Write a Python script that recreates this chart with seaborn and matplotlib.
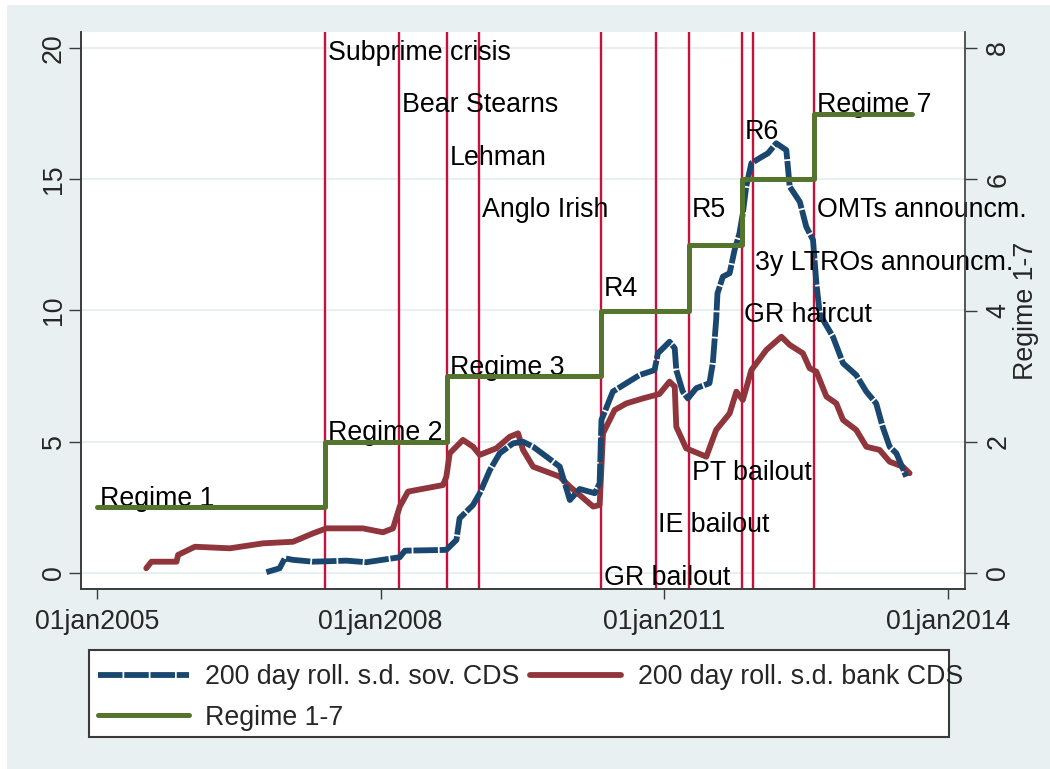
import pandas as pd
import seaborn as sns
import matplotlib.pyplot as plt
from matplotlib.patches import Rectangle
from matplotlib.lines import Line2D

# 200 day rolling s.d. of sovereign CDS
sov_dates = ["2006-10-17", "2006-12-07", "2006-12-27", "2007-01-28", "2007-04-15",
             "2007-08-22", "2007-11-07", "2008-03-15", "2008-04-04", "2008-09-11",
             "2008-10-20", "2008-11-01", "2008-12-23", "2009-01-18", "2009-02-26",
             "2009-04-05", "2009-05-27", "2009-07-04", "2009-08-12", "2009-10-03",
             "2009-11-23", "2010-01-01", "2010-02-08", "2010-04-07", "2010-04-26",
             "2010-05-03", "2010-06-16", "2010-08-07", "2010-09-27", "2010-11-24",
             "2010-12-07", "2011-01-21", "2011-02-10", "2011-02-16", "2011-03-13",
             "2011-04-02", "2011-05-04", "2011-06-24", "2011-07-07", "2011-07-20",
             "2011-07-25", "2011-08-15", "2011-09-10", "2011-09-29", "2011-10-18",
             "2011-10-31", "2011-11-13", "2011-12-03", "2012-01-03", "2012-02-05",
             "2012-03-08", "2012-04-16", "2012-04-29", "2012-06-07", "2012-07-02",
             "2012-07-28", "2012-08-10", "2012-08-23", "2012-09-05", "2012-10-13",
             "2012-11-21", "2013-01-11", "2013-02-19", "2013-03-29", "2013-04-23",
             "2013-05-20", "2013-06-15", "2013-07-23"]
sov_values = [0.03, 0.18, 0.56, 0.50, 0.43,
              0.47, 0.41, 0.60, 0.85, 0.88,
              1.26, 2.08, 2.59, 3.04, 3.92,
              4.56, 4.94, 5.00, 4.81, 4.43,
              4.05, 2.78, 3.20, 3.04, 3.42,
              5.83, 6.91, 7.23, 7.54, 7.73,
              8.37, 8.81, 8.56, 7.73, 6.91,
              6.65, 7.04, 7.23, 7.99, 9.64,
              10.65, 11.29, 11.42, 12.30, 12.94,
              13.70, 14.72, 15.61, 15.80, 15.99,
              16.37, 16.11, 14.72, 14.14, 13.19,
              12.69, 11.04, 9.89, 9.64, 9.00,
              7.99, 7.54, 6.91, 6.46, 5.57,
              4.81, 4.56, 3.67]

# 200 day rolling s.d. of bank CDS
bank_dates = ["2005-07-10", "2005-07-30", "2005-11-04", "2005-11-10", "2006-01-14",
              "2006-05-29", "2006-10-04", "2007-01-28", "2007-04-15", "2007-06-06",
              "2007-10-25", "2008-01-10", "2008-02-18", "2008-03-15", "2008-04-16",
              "2008-08-29", "2008-09-11", "2008-09-24", "2008-11-14", "2008-12-23",
              "2009-01-18", "2009-03-23", "2009-05-14", "2009-06-15", "2009-07-04",
              "2009-08-12", "2009-11-23", "2010-01-01", "2010-02-08", "2010-04-01",
              "2010-04-26", "2010-05-09", "2010-06-23", "2010-08-07", "2010-10-10",
              "2010-12-13", "2011-01-21", "2011-02-10", "2011-02-16", "2011-03-26",
              "2011-06-12", "2011-07-20", "2011-09-10", "2011-10-06", "2011-10-31",
              "2011-12-03", "2012-01-30", "2012-03-28", "2012-04-29", "2012-06-19",
              "2012-07-15", "2012-08-10", "2012-09-18", "2012-10-26", "2012-11-21",
              "2013-01-11", "2013-02-19", "2013-04-11", "2013-05-20", "2013-07-10",
              "2013-08-05"]
bank_values = [0.18, 0.43, 0.43, 0.69, 1.00,
               0.94, 1.13, 1.19, 1.51, 1.70,
               1.70, 1.55, 1.70, 2.53, 3.10,
               3.35, 3.67, 4.56, 5.07, 4.81,
               4.50, 4.75, 5.19, 5.32, 4.69,
               4.05, 3.67, 3.29, 2.97, 2.53,
               2.59, 5.32, 6.21, 6.46, 6.65,
               6.82, 7.29, 7.10, 5.57, 4.75,
               4.43, 5.45, 6.08, 6.91, 6.59,
               7.73, 8.50, 9.00, 8.69, 8.37,
               7.80, 7.67, 6.72, 6.46, 5.83,
               5.45, 4.81, 4.69, 4.24, 4.05,
               3.80]

# regimes 1-7 (right axis)
regime_dates = ["2005-01-01", "2007-06-01", "2008-09-15", "2010-05-02",
                "2011-04-06", "2011-10-26", "2012-08-02", "2013-08-13"]
regime_values = [1, 2, 3, 4, 5, 6, 7, 7]

# event lines
event_dates = ["2007-06-01", "2008-03-14", "2008-09-15", "2009-01-15", "2010-05-02",
               "2010-11-28", "2011-04-06", "2011-10-26", "2011-12-08", "2012-08-02"]

# text labels: text, anchor date, height on left axis
label_texts = ["Subprime crisis", "Bear Stearns", "Lehman", "Anglo Irish",
               "GR bailout", "IE bailout", "PT bailout", "GR haircut",
               "3y LTROs announcm.", "OMTs announcm.",
               "Regime 1", "Regime 2", "Regime 3", "R4", "R5", "R6", "Regime 7"]
label_dates = ["2007-06-01", "2008-03-14", "2008-09-15", "2009-01-15",
               "2010-05-02", "2010-11-28", "2011-04-06", "2011-10-26",
               "2011-12-08", "2012-08-02",
               "2005-01-01", "2007-06-01", "2008-09-15", "2010-05-02",
               "2011-04-06", "2011-10-26", "2012-08-02"]
label_y = [20, 18, 16, 14, 0, 2, 4, 10, 12, 14, 3, 5.5, 8, 11, 14, 17, 18]

xtick_dates = ["2005-01-01", "2008-01-01", "2011-01-01", "2014-01-01"]

NAVY = "#1a476f"
MAROON = "#90353b"
GREEN = "#55752f"
RED = "#c8103c"
BG = "#e8f0f2"
AXC = "#3a3a3a"
FS = 19.3
DASH = (0, (4.2, 0.3))

sns.set_theme(style="ticks")
plt.rcParams["font.family"] = ["Liberation Sans", "DejaVu Sans"]

W, H = 1050, 769
fig = plt.figure(figsize=(W / 100, H / 100), dpi=100)
fig.patch.set_facecolor("white")
fig.add_artist(Rectangle((7 / W, 0), 1, 1 - 5 / H, transform=fig.transFigure,
                         facecolor=BG, edgecolor="none", zorder=-10))

ax = fig.add_axes([81 / W, 1 - 589 / H, (965 - 81) / W, (589 - 32) / H])
ax.set_facecolor("white")

sov = pd.DataFrame({"date": pd.to_datetime(sov_dates), "sd": sov_values})
bank = pd.DataFrame({"date": pd.to_datetime(bank_dates), "sd": bank_values})
reg = pd.DataFrame({"date": pd.to_datetime(regime_dates), "regime": regime_values})

for d in event_dates:
    ax.axvline(pd.Timestamp(d), color=RED, lw=1.7, zorder=1)

sns.lineplot(data=bank, x="date", y="sd", ax=ax, color=MAROON, lw=4.2,
             legend=False, zorder=2)
sns.lineplot(data=sov, x="date", y="sd", ax=ax, color=NAVY, lw=4.2,
             linestyle=DASH, dash_capstyle="butt", legend=False, zorder=3)

for t, d, y in zip(label_texts, label_dates, label_y):
    ax.annotate(t, xy=(pd.Timestamp(d), y), xytext=(2, -3.5),
                textcoords="offset points", ha="left", va="center",
                fontsize=FS, color="black", zorder=4, annotation_clip=False)

ax.set_xlim(pd.Timestamp("2004-10-31"), pd.Timestamp("2014-03-07"))
ax.set_ylim(-0.61, 20.61)
ax.set_yticks([0, 5, 10, 15, 20])
xt = pd.to_datetime(xtick_dates)
ax.set_xticks(xt)
ax.set_xticklabels([d.strftime("%d%b%Y").lower() for d in xt])
ax.set(xlabel="", ylabel="")
ax.grid(axis="y", color="#e3ecef", lw=1.2)
ax.grid(axis="x", visible=False)
ax.set_axisbelow(True)

ax2 = ax.twinx()
sns.lineplot(data=reg, x="date", y="regime", ax=ax2, color=GREEN, lw=3.6,
             drawstyle="steps-post", legend=False)
ax2.set_ylim(-0.61 / 2.5, 20.61 / 2.5)
ax2.set_yticks([0, 2, 4, 6, 8])
ax2.set_ylabel("Regime 1-7", fontsize=FS, labelpad=1)
ax2.set_xlabel("")

for a in (ax, ax2):
    a.spines["top"].set_visible(False)
    for s in ("left", "right", "bottom"):
        a.spines[s].set_color(AXC)
        a.spines[s].set_linewidth(1.2)
ax.spines["right"].set_visible(False)

ax.tick_params(axis="x", length=7.2, width=1, color=AXC, labelsize=FS, pad=7)
ax.tick_params(axis="y", length=8.6, width=1, color=AXC, labelsize=FS, pad=1.5,
               labelrotation=90)
ax2.tick_params(axis="y", length=8.6, width=1, color=AXC, labelsize=FS, pad=6,
                labelrotation=90)
plt.setp(ax.get_yticklabels(), va="center")
plt.setp(ax2.get_yticklabels(), va="center")

# legend box and entries
fig.add_artist(Rectangle((89.3 / W, 1 - 736.7 / H), 860 / W, 86.7 / H,
                         transform=fig.transFigure, facecolor="white",
                         edgecolor=AXC, lw=1.5, zorder=1))
handles = [
    Line2D([], [], color=NAVY, lw=4.2, linestyle=DASH, dash_capstyle="butt"),
    Line2D([], [], color=GREEN, lw=3.6),
    Line2D([], [], color=MAROON, lw=4.2),
]
labels = ["200 day roll. s.d. sov. CDS", "Regime 1-7", "200 day roll. s.d. bank CDS"]
leg = fig.legend(handles, labels, ncol=2, frameon=False, loc="upper left",
                 bbox_to_anchor=(97.7 / W, 1 - 664 / H), borderpad=0,
                 borderaxespad=0, fontsize=FS, handlelength=3.4,
                 handletextpad=0.62, columnspacing=0.37, labelspacing=0.55)
leg.set_zorder(2)

fig.savefig("out.png", dpi=100)
